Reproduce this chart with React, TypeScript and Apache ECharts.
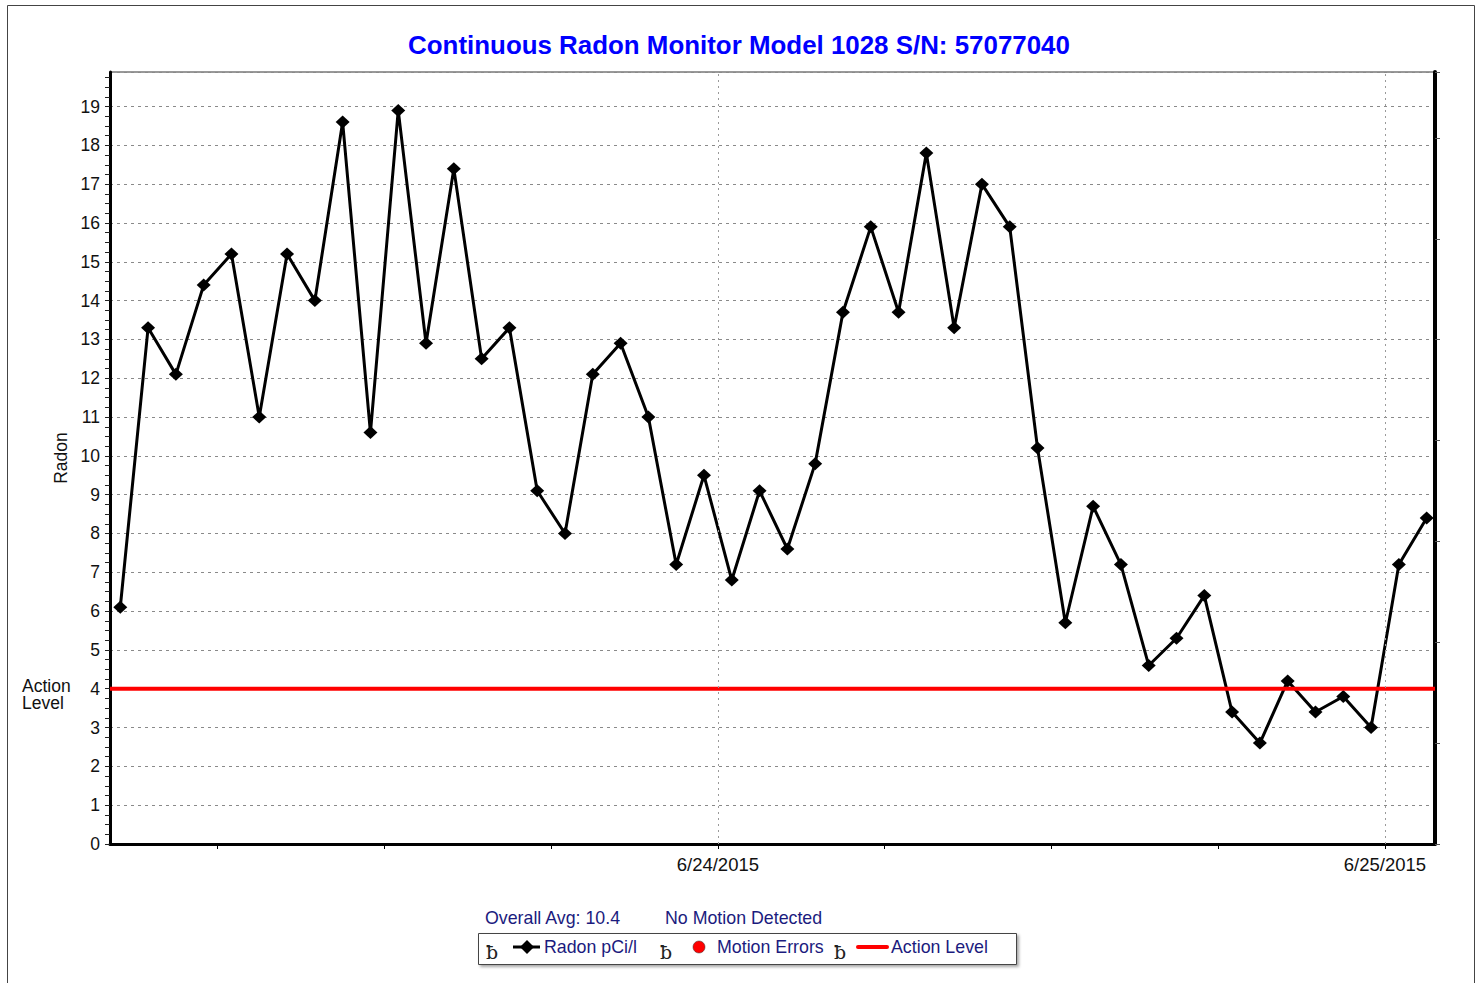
import React, { useEffect, useRef } from "react";
import * as echarts from "echarts";

const TITLE = "Continuous Radon Monitor Model 1028 S/N: 57077040";
// hours relative to 6/24/2015 00:00, one reading per hour
const FIRST_READING_HOUR = -21.5;
const RADON = [
  6.1, 13.3, 12.1, 14.4, 15.2, 11.0, 15.2, 14.0, 18.6, 10.6, 18.9, 12.9,
  17.4, 12.5, 13.3, 9.1, 8.0, 12.1, 12.9, 11.0, 7.2, 9.5, 6.8, 9.1,
  7.6, 9.8, 13.7, 15.9, 13.7, 17.8, 13.3, 17.0, 15.9, 10.2, 5.7, 8.7,
  7.2, 4.6, 5.3, 6.4, 3.4, 2.6, 4.2, 3.4, 3.8, 3.0, 7.2, 8.4,
];
const MOTION_ERRORS: number[][] = [];
const ACTION_LEVEL = 4;
const X_MIN = -21.87;
const X_MAX = 25.8;
const Y_MAX = 19.89;
const RIGHT_MAX = 7.654;
const DAY_HOURS = [0, 24];
const DAY_LABELS = ["6/24/2015", "6/25/2015"];
const SIX_HOUR_TICKS = [-18, -12, -6, 0, 6, 12, 18, 24];
const Y_LABELS = [0, 1, 2, 3, 4, 5, 6, 7, 8, 9, 10, 11, 12, 13, 14, 15, 16, 17, 18, 19];
const Y_TICKS = Array.from({ length: 80 }, (_, i) => i * 0.25);
const OVERALL_AVG = "10.4";
const MOTION_STATUS = "No Motion Detected";

const FONT = "'Liberation Sans', Arial, sans-serif";
const NAVY = "#1b1b7e";

export default function App() {
  const ref = useRef<HTMLDivElement>(null);
  useEffect(() => {
    if (!ref.current) return;
    const chart = echarts.init(ref.current, null, { renderer: "svg" });
    const radonData = RADON.map((v, i) => [FIRST_READING_HOUR + i, v]);
    const b = (x: number) => ({
      type: "text",
      style: { text: "ƀ", x, y: 952, fontSize: 19, fontFamily: "'DejaVu Serif', 'Liberation Serif', serif", fill: "#222", verticalAlign: "middle" },
    });
    const legendText = (text: string, x: number, y: number) => ({
      type: "text",
      style: { text, x, y, fontSize: 17.8, fontFamily: FONT, fill: NAVY, verticalAlign: "middle" },
    });
    chart.setOption({
      animation: false,
      title: {
        text: TITLE,
        left: 734,
        top: 27,
        textAlign: "center",
        textStyle: { color: "#0000ff", fontWeight: "bold", fontSize: 25.9, fontFamily: FONT },
      },
      grid: { left: 110, right: 48, top: 72, bottom: 139, show: true, borderColor: "#333", borderWidth: 1 },
      xAxis: [
        {
          type: "value",
          min: X_MIN,
          max: X_MAX,
          position: "bottom",
          axisLine: { show: true, onZero: false, lineStyle: { color: "#000", width: 3 } },
          axisTick: { show: true, customValues: SIX_HOUR_TICKS, length: 5, lineStyle: { color: "#000" } },
          axisLabel: {
            customValues: DAY_HOURS,
            formatter: (v: number) => {
              const i = DAY_HOURS.indexOf(Math.round(v));
              return i >= 0 ? DAY_LABELS[i] : "";
            },
            fontSize: 18.5,
            color: "#111",
            fontFamily: FONT,
            margin: 11,
          },
          splitLine: { show: false },
        },
      ],
      yAxis: [
        {
          type: "value",
          min: 0,
          max: Y_MAX,
          interval: 1,
          position: "left",
          name: "Radon",
          nameLocation: "middle",
          nameGap: 36,
          nameRotate: 90,
          nameTextStyle: { fontSize: 17.5, color: "#111", fontFamily: FONT },
          axisLine: { show: true, onZero: false, lineStyle: { color: "#000", width: 3 } },
          axisTick: { show: true, customValues: Y_TICKS, length: 5, lineStyle: { color: "#222" } },
          axisLabel: { customValues: Y_LABELS, fontSize: 17.5, color: "#111", fontFamily: FONT, margin: 10 },
          splitLine: { show: false },
        },
        {
          type: "value",
          min: 0,
          max: RIGHT_MAX,
          interval: 1,
          position: "right",
          axisLine: { show: true, onZero: false, lineStyle: { color: "#000", width: 4 } },
          axisTick: { show: true, length: 5, lineStyle: { color: "#555" } },
          axisLabel: { show: false },
          splitLine: { show: false },
        },
        {
          type: "value",
          min: 0,
          max: Y_MAX,
          interval: 1,
          position: "left",
          axisLine: { show: false },
          axisTick: { show: false },
          axisLabel: { show: false },
          splitLine: { show: true, lineStyle: { color: "#8a8a8a", width: 1, type: [3, 4] } },
        },
      ],
      series: [
        {
          name: "Motion Errors",
          type: "scatter",
          data: MOTION_ERRORS,
          itemStyle: { color: "#ff0000" },
          z: 1,
          markLine: {
            silent: true,
            symbol: ["none", "none"],
            label: { show: false },
            lineStyle: { color: "#9a9a9a", width: 1, type: [2, 4] },
            data: DAY_HOURS.map((h) => ({ xAxis: h })),
          },
        },
        {
          name: "Radon pCi/l",
          type: "line",
          data: radonData,
          symbol: "diamond",
          symbolSize: [14, 13],
          itemStyle: { color: "#000" },
          lineStyle: { color: "#000", width: 3 },
          z: 3,
        },
        {
          name: "Action Level",
          type: "line",
          data: [
            [X_MIN, ACTION_LEVEL],
            [X_MAX, ACTION_LEVEL],
          ],
          symbol: "none",
          lineStyle: { color: "#ff0000", width: 4 },
          z: 4,
        },
      ],
      graphic: [
        {
          type: "rect",
          shape: { x: 7.5, y: 5.5, width: 1467, height: 1000 },
          style: { fill: "none", stroke: "#444", lineWidth: 1 },
          silent: true,
        },
        {
          type: "text",
          style: {
            text: "Action\nLevel",
            x: 22,
            y: 694.5,
            fontSize: 17.5,
            lineHeight: 17.5,
            fontFamily: FONT,
            fill: "#111",
            verticalAlign: "middle",
          },
        },
        legendText("Overall Avg: " + OVERALL_AVG, 485, 918),
        legendText(MOTION_STATUS, 665, 918),
        {
          type: "rect",
          shape: { x: 478.5, y: 933.5, width: 538, height: 31 },
          style: { fill: "#fff", stroke: "#444", lineWidth: 1, shadowBlur: 3, shadowColor: "rgba(0,0,0,0.35)", shadowOffsetX: 2, shadowOffsetY: 2 },
        },
        b(486),
        {
          type: "line",
          shape: { x1: 513, y1: 947, x2: 540, y2: 947 },
          style: { stroke: "#000", lineWidth: 3 },
        },
        {
          type: "polygon",
          shape: { points: [[527, 940], [534, 947], [527, 954], [520, 947]] },
          style: { fill: "#000" },
        },
        legendText("Radon pCi/l", 544, 947),
        b(660),
        {
          type: "circle",
          shape: { cx: 699, cy: 947, r: 6 },
          style: { fill: "#ff0000", stroke: "#333", lineWidth: 0.5 },
        },
        legendText("Motion Errors", 717, 947),
        b(834),
        {
          type: "line",
          shape: { x1: 858, y1: 947, x2: 887, y2: 947 },
          style: { stroke: "#ff0000", lineWidth: 4, lineCap: "round" },
        },
        legendText("Action Level", 891, 947),
      ],
    });
    return () => chart.dispose();
  }, []);
  return (
    <div
      ref={ref}
      style={{ position: "fixed", left: 0, top: 0, width: 1483, height: 983, background: "#fff" }}
    />
  );
}
